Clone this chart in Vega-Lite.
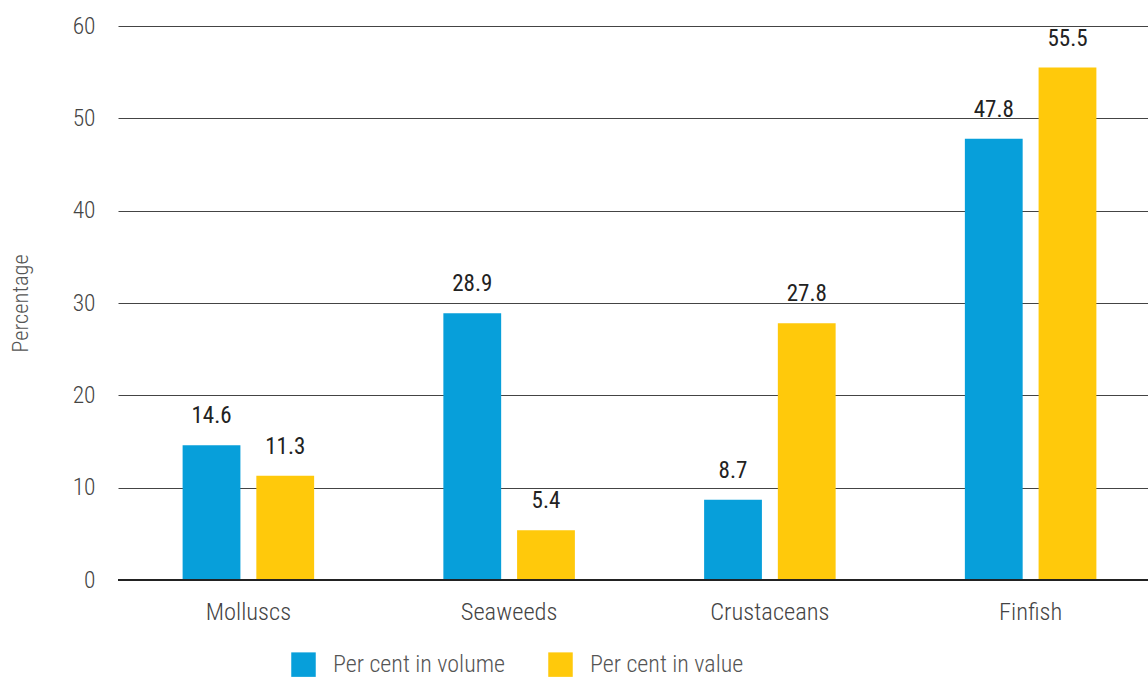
{
  "$schema": "https://vega.github.io/schema/vega-lite/v6.json",
  "autosize": "none",
  "width": 1030,
  "height": 554,
  "padding": {"left": 118, "top": 26, "right": 0, "bottom": 98},
  "background": "white",
  "config": {
    "font": "Roboto Condensed, Liberation Sans Narrow, Roboto",
    "view": {"stroke": null}
  },
  "data": {
    "values": [
      {"species": "Molluscs", "measure": "Per cent in volume", "value": 14.6},
      {"species": "Molluscs", "measure": "Per cent in value", "value": 11.3},
      {"species": "Seaweeds", "measure": "Per cent in volume", "value": 28.9},
      {"species": "Seaweeds", "measure": "Per cent in value", "value": 5.4},
      {"species": "Crustaceans", "measure": "Per cent in volume", "value": 8.7},
      {"species": "Crustaceans", "measure": "Per cent in value", "value": 27.8},
      {"species": "Finfish", "measure": "Per cent in volume", "value": 47.8},
      {"species": "Finfish", "measure": "Per cent in value", "value": 55.5}
    ]
  },
  "encoding": {
    "x": {
      "field": "species",
      "type": "nominal",
      "sort": ["Molluscs", "Seaweeds", "Crustaceans", "Finfish"],
      "scale": {"range": [0, 1043], "paddingInner": 0.4956, "paddingOuter": 0.2478},
      "axis": {
        "title": null,
        "labelAngle": 0,
        "labelFontSize": 24.5,
        "labelFontWeight": 300,
        "labelColor": "#444",
        "labelPadding": 20,
        "ticks": false,
        "domain": false
      }
    },
    "xOffset": {
      "field": "measure",
      "type": "nominal",
      "sort": ["Per cent in volume", "Per cent in value"],
      "scale": {"paddingInner": 0.216, "paddingOuter": 0}
    },
    "y": {
      "field": "value",
      "type": "quantitative",
      "scale": {"domain": [0, 60]},
      "axis": {
        "title": "Percentage",
        "titleFontSize": 22.5,
        "titleFontWeight": 300,
        "titleColor": "#555",
        "titleX": -98,
        "titleY": 277,
        "titleAngle": -90,
        "titleAlign": "center",
        "titleBaseline": "middle",
        "values": [0, 10, 20, 30, 40, 50, 60],
        "labelFontSize": 23.5,
        "labelFontWeight": 300,
        "labelColor": "#444",
        "labelPadding": 23,
        "ticks": false,
        "domain": false,
        "grid": true,
        "gridColor": "#444",
        "gridWidth": 1
      }
    }
  },
  "layer": [
    {
      "mark": {"type": "bar"},
      "encoding": {
        "color": {
          "field": "measure",
          "type": "nominal",
          "sort": ["Per cent in volume", "Per cent in value"],
          "scale": {"domain": ["Per cent in volume", "Per cent in value"], "range": ["#079fda", "#ffc90b"]},
          "legend": {
            "title": null,
            "orient": "none",
            "direction": "horizontal",
            "legendX": 173,
            "legendY": 626,
            "symbolType": "square",
            "symbolSize": 600,
            "symbolStrokeWidth": 0,
            "symbolOpacity": 1,
            "labelFontSize": 24,
            "labelFontWeight": 300,
            "labelColor": "#555",
            "labelOffset": 17,
            "labelLimit": 400,
            "columnPadding": 42
          }
        }
      }
    },
    {
      "mark": {"type": "text", "dy": -22, "baseline": "alphabetic", "fontSize": 23, "color": "#222"},
      "encoding": {
        "text": {"field": "value", "type": "quantitative", "format": ".1f"}
      }
    },
    {
      "data": {"values": [{"zero": 0}]},
      "mark": {"type": "rule", "color": "#222", "strokeWidth": 2},
      "encoding": {"y": {"field": "zero", "type": "quantitative"}, "x": null, "xOffset": null}
    }
  ]
}
